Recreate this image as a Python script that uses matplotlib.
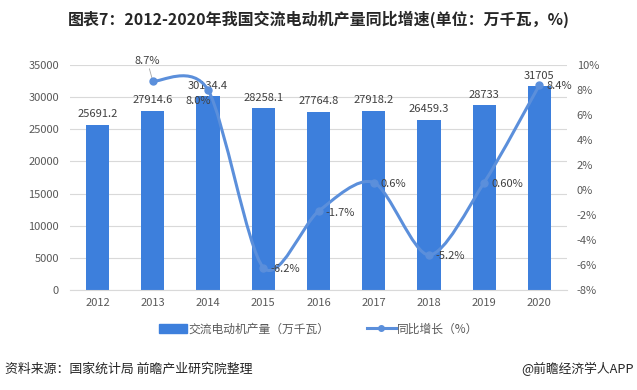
import numpy as np
import matplotlib.pyplot as plt
from matplotlib.path import Path
from matplotlib.patches import PathPatch
from matplotlib.lines import Line2D
from matplotlib.patches import Patch

plt.rcParams['font.family'] = ['Noto Sans CJK SC', 'DejaVu Sans']

years = ['2012', '2013', '2014', '2015', '2016', '2017', '2018', '2019', '2020']
output = [25691.2, 27914.6, 30134.4, 28258.1, 27764.8, 27918.2, 26459.3, 28733, 31705]
output_labels = ['25691.2', '27914.6', '30134.4', '28258.1', '27764.8', '27918.2', '26459.3', '28733', '31705']
growth_years = ['2013', '2014', '2015', '2016', '2017', '2018', '2019', '2020']
growth = [8.7, 8.0, -6.2, -1.7, 0.6, -5.2, 0.6, 8.4]
growth_labels = ['8.7%', '8.0%', '-6.2%', '-1.7%', '0.6%', '-5.2%', '0.60%', '8.4%']

bar_color = '#3d7fdc'
line_color = '#5b8fdb'
text_color = '#404040'
tick_color = '#595959'
fs = 8

fig = plt.figure(figsize=(6.37, 3.90), dpi=100)
ax = fig.add_axes([70/637, 1-290/390, 497/637, 225/390])
ax2 = ax.twinx()

x = np.arange(len(years))
ax.bar(x, output, width=0.42, color=bar_color, zorder=2)
for xi, v, lab in zip(x, output, output_labels):
    ax.annotate(lab, (xi, v), xytext=(0, 4), textcoords='offset points',
                ha='center', va='bottom', fontsize=fs, color=text_color)

ax.set_xlim(-0.5, len(years) - 0.5)
ax.set_ylim(0, 35000)
ax.set_yticks(np.arange(0, 35001, 5000))
ax.set_xticks(x)
ax.set_xticklabels(years)
ax.grid(axis='y', color='#d9d9d9', lw=0.8, zorder=0)
ax.set_axisbelow(True)

ax2.set_ylim(-8, 10)
ax2.set_yticks(np.arange(-8, 10.1, 2))
ax2.set_yticklabels([f'{t}%' for t in range(-8, 11, 2)])

for a in (ax, ax2):
    for s in a.spines.values():
        s.set_visible(False)
    a.tick_params(length=0, labelsize=fs, colors=tick_color)
ax.spines['bottom'].set_visible(True)
ax.spines['bottom'].set_color('#d9d9d9')
ax.tick_params(axis='y', pad=8)
ax.tick_params(axis='x', pad=6)
ax2.tick_params(axis='y', pad=7)

# smoothed line (Excel style bezier through the data points)
gx = np.array([years.index(y) for y in growth_years], dtype=float)
gy = np.array(growth, dtype=float)
pts = np.column_stack([gx, gy])
verts = [pts[0]]
codes = [Path.MOVETO]
n = len(pts)
k = 1 / 7
for i in range(n - 1):
    p0 = pts[max(i - 1, 0)]
    p1 = pts[i]
    p2 = pts[i + 1]
    p3 = pts[min(i + 2, n - 1)]
    c1 = p1 + (p2 - p0) * k
    c2 = p2 - (p3 - p1) * k
    verts += [c1, c2, p2]
    codes += [Path.CURVE4] * 3
ax2.add_patch(PathPatch(Path(verts, codes), fill=False, edgecolor=line_color,
                        lw=2.2, capstyle='round', zorder=3))
ax2.plot(gx, gy, 'o', color=line_color, ms=5, zorder=4)

for i, (xi, v, lab) in enumerate(zip(gx, gy, growth_labels)):
    if i == 0:
        ax2.annotate(lab, (xi, v), xytext=(-4, 11), textcoords='offset points',
                     ha='center', va='bottom', fontsize=fs, color=text_color,
                     arrowprops=dict(arrowstyle='-', color='#a6a6a6', lw=0.6,
                                     shrinkA=0, shrinkB=2))
    elif i == 1:
        ax2.annotate(lab, (xi, v), xytext=(-7, -8), textcoords='offset points',
                     ha='center', va='center', fontsize=fs, color=text_color)
    else:
        ax2.annotate(lab, (xi, v), xytext=(5, -1), textcoords='offset points',
                     ha='left', va='center', fontsize=fs, color=text_color)

handles = [Patch(color=bar_color),
           Line2D([], [], color=line_color, lw=2.2, marker='o', ms=4)]
fig.legend(handles, ['交流电动机产量（万千瓦）', '同比增长（%）'], loc='center',
           bbox_to_anchor=(0.5, 1-329/390), ncol=2, frameon=False, fontsize=8.5,
           labelcolor=tick_color, handlelength=2.4, handleheight=0.9,
           columnspacing=3.2, handletextpad=0.1)

fig.text(0.5, 1-19/390, '图表7：2012-2020年我国交流电动机产量同比增速(单位：万千瓦，%)',
         ha='center', va='center', fontsize=11.5, fontweight='bold', color='#262626')
fig.text(5/637, 1-369/390, '资料来源：国家统计局 前瞻产业研究院整理',
         ha='left', va='center', fontsize=9.3, color='#262626')
fig.text(634/637, 1-369/390, '@前瞻经济学人APP',
         ha='right', va='center', fontsize=9.2, color='#262626')

fig.savefig('out.png', dpi=100)
